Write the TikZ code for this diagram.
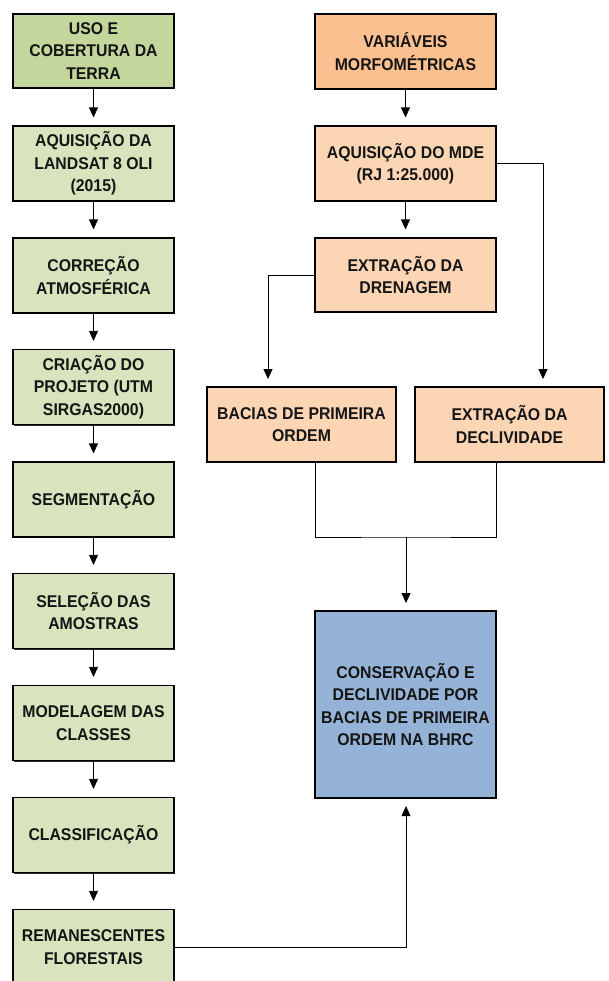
\documentclass[tikz,border=0pt]{standalone}
\usepackage{fontspec}
\setmainfont{Liberation Sans}[FakeStretch=0.93]
\usetikzlibrary{arrows.meta,shadows}
\definecolor{gdark}{HTML}{C3D69B}
\definecolor{glight}{HTML}{D7E4BD}
\definecolor{odark}{HTML}{FAC090}
\definecolor{olight}{HTML}{FCD5B5}
\definecolor{bluebox}{HTML}{95B3D7}
\definecolor{txt}{HTML}{151515}
\begin{document}
\begin{tikzpicture}[x=1pt,y=-1pt,
  boxbase/.style={draw=black, line width=1.2pt, align=center, inner sep=0pt,
    font=\fontsize{17}{22.5}\selectfont\bfseries, text=txt,
    general shadow={fill=black!85, shadow xshift=1pt, shadow yshift=-1pt}},
  lbox/.style={boxbase, fill=glight, minimum width=161pt, minimum height=75pt},
  rbox/.style={boxbase, fill=olight, minimum width=181pt, minimum height=75pt},
  mbox/.style={boxbase, fill=olight, minimum width=189pt, minimum height=75pt},
  arr/.style={draw=black, line width=0.8pt, -{Triangle[width=9pt,length=10pt]}, shorten >=8pt},
  ln/.style={draw=black, line width=0.8pt}]
\useasboundingbox (0,0) rectangle (609,981);
% left column
\node[lbox, fill=gdark, minimum height=74pt] (L1) at (93.5,51) {USO E\\COBERTURA DA\\TERRA};
\node[lbox] (L2) at (93.5,163.5) {AQUISIÇÃO DA\\LANDSAT 8 OLI\\(2015)};
\node[lbox] (L3) at (93.5,275.5) {CORREÇÃO\\ATMOSFÉRICA};
\node[lbox] (L4) at (93.5,387) {CRIAÇÃO DO\\PROJETO (UTM\\SIRGAS2000)};
\node[lbox] (L5) at (93.5,499.5) {SEGMENTAÇÃO};
\node[lbox] (L6) at (93.5,611) {SELEÇÃO DAS\\AMOSTRAS};
\node[lbox] (L7) at (93.5,723) {MODELAGEM DAS\\CLASSES};
\node[lbox] (L8) at (93.5,835) {CLASSIFICAÇÃO};
\node[lbox] (L9) at (93.5,947) {REMANESCENTES\\FLORESTAIS};
% right column
\node[rbox, fill=odark] (R1) at (405.5,51.5) {VARIÁVEIS\\MORFOMÉTRICAS};
\node[rbox] (R2) at (405.5,163.5) {AQUISIÇÃO DO MDE\\(RJ 1:25.000)};
\node[rbox, minimum height=74pt] (R3) at (405.5,275) {EXTRAÇÃO DA\\DRENAGEM};
\node[mbox] (B) at (301.5,424.5) {BACIAS DE PRIMEIRA\\ORDEM};
\node[mbox] (D) at (509.5,424.5) {EXTRAÇÃO DA\\DECLIVIDADE};
\node[boxbase, fill=bluebox, minimum width=181pt, minimum height=187pt] (C) at (405.5,704.5)
  {CONSERVAÇÃO E\\DECLIVIDADE POR\\BACIAS DE PRIMEIRA\\ORDEM NA BHRC};
% coordinates
\coordinate (bin) at (268,387);
\coordinate (din) at (543,387);
\coordinate (bout) at (315,462);
\coordinate (dout) at (496,462);
\coordinate (merge) at (406,537);
\coordinate (cin) at (406,611);
\coordinate (cbot) at (406,798);
% arrows left
\foreach \a/\b in {L1/L2,L2/L3,L3/L4,L4/L5,L5/L6,L6/L7,L7/L8,L8/L9} {
  \draw[arr] (\a.south) -- (\b.north);
}
% arrows right
\draw[arr] (R1.south) -- (R2.north);
\draw[arr] (R2.south) -- (R3.north);
\draw[arr] (R2.east) -| (din);
\draw[arr] (R3.west) -| (bin);
\draw[ln] (bout) |- (merge) -| (dout);
\draw[arr] (merge) -- (cin);
\draw[arr] (L9.east) -| (cbot);
\end{tikzpicture}
\end{document}
